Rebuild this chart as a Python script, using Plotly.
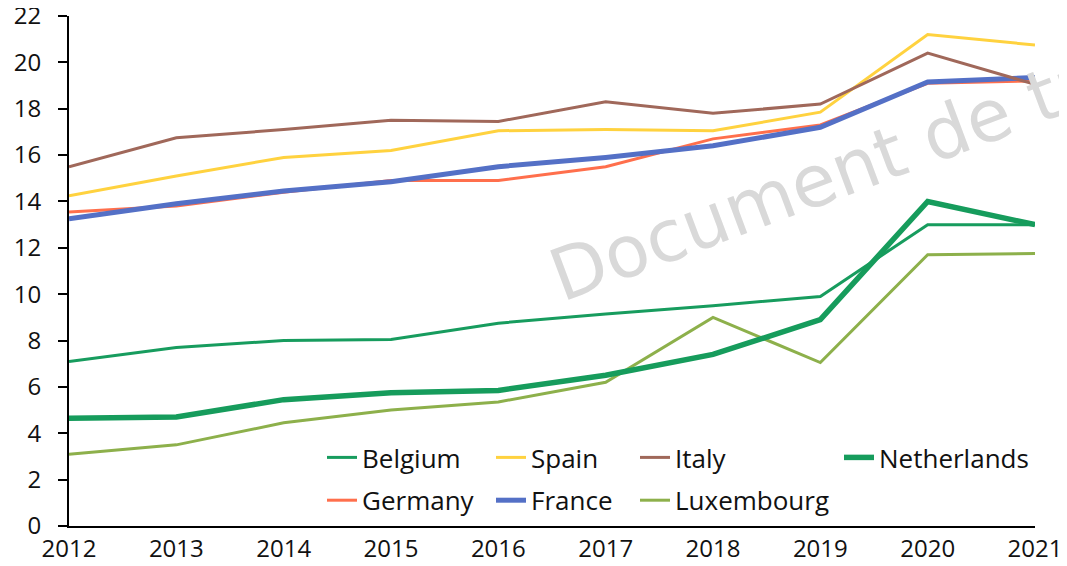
import plotly.graph_objects as go

years = [2012, 2013, 2014, 2015, 2016, 2017, 2018, 2019, 2020, 2021]

belgium = [7.1, 7.7, 8.0, 8.05, 8.75, 9.15, 9.5, 9.9, 13.0, 13.0]
spain = [14.25, 15.1, 15.9, 16.2, 17.05, 17.1, 17.05, 17.85, 21.2, 20.75]
italy = [15.5, 16.75, 17.1, 17.5, 17.45, 18.3, 17.8, 18.2, 20.4, 19.05]
netherlands = [4.65, 4.7, 5.45, 5.75, 5.85, 6.5, 7.4, 8.9, 14.0, 13.0]
germany = [13.55, 13.8, 14.4, 14.9, 14.9, 15.5, 16.7, 17.3, 19.1, 19.2]
france = [13.25, 13.9, 14.45, 14.85, 15.5, 15.9, 16.4, 17.2, 19.15, 19.35]
luxembourg = [3.1, 3.5, 4.45, 5.0, 5.35, 6.2, 9.0, 7.05, 11.7, 11.75]

y_ticks = [0, 2, 4, 6, 8, 10, 12, 14, 16, 18, 20, 22]

series = [
    # name, values, color, width, legend id
    ("Belgium", belgium, "#179C5E", 3, "legend"),
    ("Germany", germany, "#FF6F4C", 3, "legend"),
    ("Spain", spain, "#FFD23F", 3, "legend2"),
    ("France", france, "#5470C6", 5, "legend2"),
    ("Italy", italy, "#A0685A", 3, "legend3"),
    ("Luxembourg", luxembourg, "#8DB04B", 3, "legend3"),
    ("Netherlands", netherlands, "#169C5C", 5.5, "legend4"),
]

fig = go.Figure()
for name, vals, color, width, leg in series:
    fig.add_trace(go.Scatter(
        x=years, y=vals, name=name, mode="lines",
        line=dict(color=color, width=width),
        legend=leg, legendgroup=name,
    ))

font_family = "Open Sans"
W, H = 1059, 558
ML, MR, MT, MB = 61, 32, 8, 40
PW, PH = W - ML - MR, H - MT - MB


def px_x(px):
    return (px - ML) / PW


def px_y(py):
    return (H - MB - py) / PH


leg_common = dict(
    orientation="v", xref="paper", yref="paper",
    xanchor="left", yanchor="top", bgcolor="rgba(0,0,0,0)",
    font=dict(family=font_family, size=26, color="#111111"),
    tracegroupgap=6, itemwidth=30,
)
leg_y = px_y(426)
fig.update_layout(
    legend=dict(x=px_x(314), y=leg_y, **leg_common),
    legend2=dict(x=px_x(483), y=leg_y, **leg_common),
    legend3=dict(x=px_x(627), y=leg_y, **leg_common),
    legend4=dict(x=px_x(831), y=leg_y, **leg_common),
)

fig.add_annotation(
    text="Document de travail", xref="paper", yref="paper",
    x=px_x(890), y=px_y(142), xanchor="center", yanchor="middle",
    showarrow=False, textangle=-20.5,
    font=dict(family="DejaVu Sans", size=72, color="#D9D9D9"),
)

fig.update_layout(
    width=W, height=H,
    margin=dict(l=ML, r=MR, t=MT, b=MB, autoexpand=False),
    plot_bgcolor="white", paper_bgcolor="white",
    font=dict(family=font_family, size=24, color="#111111"),
    showlegend=True,
)
fig.update_xaxes(
    range=[2012, 2021], tickmode="array", tickvals=years,
    ticktext=[str(y) for y in years],
    showgrid=False, zeroline=False, showline=True,
    linecolor="black", linewidth=2, ticks="",
    tickfont=dict(family=font_family, size=24),
    ticklabeloverflow="allow",
)
fig.update_yaxes(
    range=[0, 22], tickmode="array", tickvals=y_ticks,
    showgrid=False, zeroline=False, showline=True,
    linecolor="black", linewidth=2, ticks="outside", ticklen=9,
    tickwidth=2, tickcolor="black", ticklabelstandoff=12,
    tickfont=dict(family=font_family, size=24),
    ticklabeloverflow="allow",
)

fig.write_html("out.html")
